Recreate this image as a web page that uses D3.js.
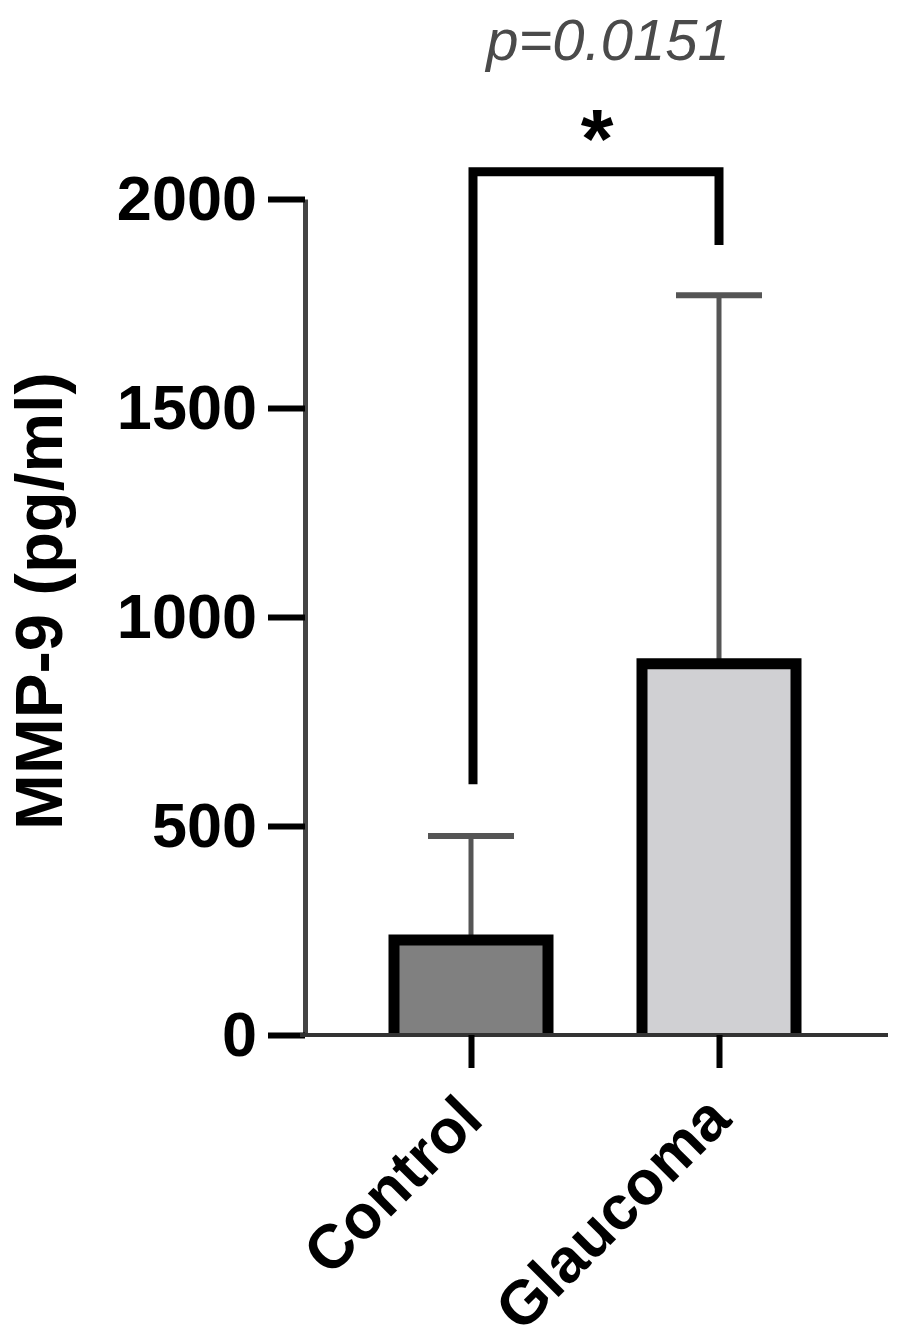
<!DOCTYPE html>
<html>
<head>
<meta charset="utf-8">
<script src="https://cdn.jsdelivr.net/npm/d3@7"></script>
<style>
  html, body { margin: 0; padding: 0; background: #fff; }
  svg { display: block; }
  text { font-family: "Liberation Sans", Arial, sans-serif; }
</style>
</head>
<body>
<svg id="chart" width="903" height="1342"></svg>
<script>
// ---- data ----
const categories = ["Control", "Glaucoma"];
const means = [227, 888];
const sds = [249, 882];
const fills = ["#808080", "#d0d0d3"];
const yTicks = [0, 500, 1000, 1500, 2000];
const yLabel = "MMP-9 (pg/ml)";
const pLabel = "p=0.0151";
const sigLabel = "*";
const bracketLeftValue = 600;   // left leg bottom
const bracketRightValue = 1890; // right leg bottom
const bracketTopValue = 2065;

// ---- layout ----
const svg = d3.select("#chart");
const y = d3.scaleLinear().domain([0, 2000]).range([1035, 199]);
const x = d3.scalePoint().domain(categories).range([471, 719]);
const barW = 154;

// error bars (behind bars)
const eb = svg.append("g");
categories.forEach((c, i) => {
  const cx = x(c);
  eb.append("line")
    .attr("x1", cx).attr("x2", cx)
    .attr("y1", y(means[i])).attr("y2", y(means[i] + sds[i]))
    .attr("stroke", "#555").attr("stroke-width", 5);
  eb.append("line")
    .attr("x1", cx - 43).attr("x2", cx + 43)
    .attr("y1", y(means[i] + sds[i])).attr("y2", y(means[i] + sds[i]))
    .attr("stroke", "#555").attr("stroke-width", 6);
});

// bars: fill + open outline (no bottom edge)
const bars = svg.append("g");
bars.selectAll("rect")
  .data(categories)
  .join("rect")
  .attr("x", d => x(d) - barW / 2)
  .attr("width", barW)
  .attr("y", (d, i) => y(means[i]))
  .attr("height", (d, i) => y(0) - y(means[i]))
  .attr("fill", (d, i) => fills[i]);
bars.selectAll("path")
  .data(categories)
  .join("path")
  .attr("d", (d, i) => {
    const l = x(d) - barW / 2, r = x(d) + barW / 2;
    return `M${l},${y(0)} V${y(means[i])} H${r} V${y(0)}`;
  })
  .attr("fill", "none")
  .attr("stroke", "#000")
  .attr("stroke-width", 11)
  .attr("stroke-linejoin", "miter");

// y axis
const yAxis = svg.append("g")
  .attr("transform", "translate(305,0)")
  .call(d3.axisLeft(y).tickValues(yTicks).tickFormat(d3.format("d"))
    .tickSize(37).tickPadding(11).tickSizeOuter(0));
yAxis.select(".domain").attr("stroke", "#444").attr("stroke-width", 5);
yAxis.selectAll(".tick line").attr("stroke", "#000").attr("stroke-width", 6);
yAxis.selectAll(".tick text")
  .attr("fill", "#000")
  .style("font-size", "63px").style("font-weight", "bold")
  .style("font-family", "'Liberation Sans', Arial, sans-serif");

// x axis
const xAxisG = svg.append("g").attr("transform", `translate(0,${y(0)})`);
xAxisG.append("line")
  .attr("x1", 300).attr("x2", 888).attr("y1", 0).attr("y2", 0)
  .attr("stroke", "#333").attr("stroke-width", 4);
const xAxis = xAxisG.append("g")
  .call(d3.axisBottom(x).tickSize(33).tickSizeOuter(0));
xAxis.select(".domain").remove();
xAxis.selectAll(".tick line").attr("stroke", "#000").attr("stroke-width", 6);
xAxis.selectAll(".tick text")
  .attr("fill", "#000")
  .attr("text-anchor", "end")
  .attr("dy", null).attr("y", null)
  .attr("transform", "translate(14,87) rotate(-45)")
  .style("font-size", "62px").style("font-weight", "bold")
  .style("font-family", "'Liberation Sans', Arial, sans-serif");

// y label
svg.append("text")
  .attr("transform", "translate(62,601) rotate(-90)")
  .attr("text-anchor", "middle")
  .style("font-size", "67px").style("font-weight", "bold")
  .attr("fill", "#000")
  .text(yLabel);

// significance bracket
const xL = x(categories[0]) + 2, xR = x(categories[1]);
svg.append("path")
  .attr("d", `M${xL},${y(bracketLeftValue)} V${y(bracketTopValue)} H${xR} V${y(bracketRightValue)}`)
  .attr("fill", "none").attr("stroke", "#000").attr("stroke-width", 9)
  .attr("stroke-linejoin", "miter");

svg.append("text")
  .attr("x", 597).attr("y", 168)
  .attr("text-anchor", "middle")
  .style("font-size", "84px").style("font-weight", "bold")
  .attr("fill", "#000")
  .text(sigLabel);

svg.append("text")
  .attr("x", 608).attr("y", 60)
  .attr("text-anchor", "middle")
  .style("font-size", "58px").style("font-style", "italic")
  .attr("fill", "#4a4a4a")
  .text(pLabel);
</script>
</body>
</html>
